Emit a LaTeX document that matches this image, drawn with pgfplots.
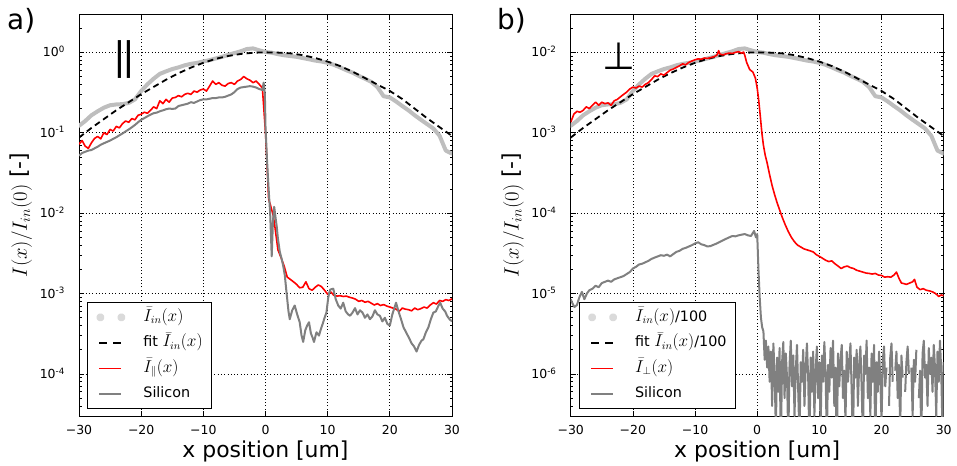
\documentclass[border=0pt]{standalone}
\usepackage{pgfplots}
\pgfplotsset{compat=1.18}
\usepackage{pgfplotstable}
\usepackage{fontspec}
\setmainfont{DejaVu Sans}
\newfontfamily\symfont{DejaVu Sans}
\definecolor{iin}{RGB}{190,190,190}
\definecolor{iinleg}{RGB}{218,218,218}
\definecolor{sil}{RGB}{128,128,128}
\newcommand{\lf}{\fontsize{14.4}{17}\selectfont}
\newcommand{\lfm}{\fontsize{16}{17}\selectfont}
\newcommand{\labf}{\fontsize{22}{26}\selectfont}

% mean incident intensity (panel a); panel b uses the same /100
\pgfplotstableread{
x y
-30 0.122
-29 0.140
-28 0.165
-27 0.185
-26 0.205
-25 0.220
-24 0.225
-23 0.227
-22 0.235
-21 0.260
-20 0.330
-19 0.400
-18 0.470
-17 0.540
-16 0.580
-15 0.620
-14 0.650
-13 0.690
-12 0.720
-11 0.740
-10 0.770
-9 0.800
-8 0.840
-7 0.880
-6 0.930
-5 0.980
-4 1.030
-3 1.100
-2 1.120
-1 1.060
0 1.010
1 0.990
2 0.950
3 0.920
4 0.900
5 0.880
6 0.850
7 0.820
8 0.790
9 0.770
10 0.740
11 0.700
12 0.650
13 0.600
14 0.560
15 0.510
16 0.470
17 0.430
18 0.370
19 0.285
20 0.275
21 0.245
22 0.215
23 0.190
24 0.165
25 0.145
26 0.128
27 0.113
28 0.092
29 0.060
30 0.055
}\tinL

% fit of the mean incident intensity
\pgfplotstableread{
x y
-30 0.0871
-28 0.1148
-26 0.1479
-24 0.1905
-22 0.2399
-20 0.3020
-18 0.3715
-16 0.4571
-14 0.5495
-12 0.6457
-10 0.7413
-8 0.8318
-6 0.9016
-4 0.9550
-2 0.9886
0 1.0000
2 0.9931
4 0.9727
6 0.9226
8 0.8511
10 0.7674
12 0.6761
14 0.5754
16 0.4786
18 0.3981
20 0.3311
22 0.2630
24 0.1995
26 0.1514
28 0.1175
30 0.0912
}\tfit

% I parallel (panel a)
\pgfplotstableread{
x y
-30 0.072
-29.5 0.080
-29 0.068
-28.5 0.064
-28 0.075
-27.5 0.085
-27 0.090
-26.5 0.084
-26 0.100
-25.5 0.095
-25 0.110
-24.5 0.105
-24 0.120
-23.5 0.115
-23 0.130
-22.5 0.140
-22 0.135
-21.5 0.150
-21 0.145
-20.5 0.165
-20 0.170
-19.5 0.180
-19 0.175
-18.5 0.190
-18 0.210
-17.5 0.200
-17 0.250
-16.5 0.230
-16 0.260
-15.5 0.240
-15 0.270
-14.5 0.275
-14 0.290
-13.5 0.280
-13 0.300
-12.5 0.310
-12 0.300
-11.5 0.330
-11 0.320
-10.5 0.340
-10 0.350
-9.5 0.330
-9 0.380
-8.5 0.440
-8 0.400
-7.5 0.420
-7 0.390
-6.5 0.380
-6 0.410
-5.5 0.420
-5 0.400
-4.5 0.440
-4 0.460
-3.5 0.500
-3 0.470
-2.5 0.450
-2 0.420
-1.5 0.440
-1 0.400
-0.5 0.360
0 0.100
0.25 0.040
0.5 0.015
0.75 0.013
1 0.011
1.25 0.0093
1.5 0.0069
2 0.0035
2.5 0.0028
3 0.0022
3.5 0.0016
4 0.0015
4.5 0.0014
5 0.0013
5.5 0.00118
6 0.0012
6.5 0.0014
7 0.00115
7.5 0.0011
8 0.0012
8.5 0.00128
9 0.00122
9.5 0.0011
10 0.00098
10.5 0.00105
11 0.00095
11.5 0.00093
12 0.00094
12.5 0.00092
13 0.00093
13.5 0.00090
14 0.00088
14.5 0.00085
15 0.00080
15.5 0.00082
16 0.00078
16.5 0.00080
17 0.00076
17.5 0.00072
18 0.00075
18.5 0.00071
19 0.00073
19.5 0.00070
20 0.00068
20.5 0.00066
21 0.00064
21.5 0.00060
22 0.00066
22.5 0.00064
23 0.00063
23.5 0.00061
24 0.00066
24.5 0.00063
25 0.00065
25.5 0.00068
26 0.00066
26.5 0.00072
27 0.00077
27.5 0.00074
28 0.00082
28.5 0.00080
29 0.00084
29.5 0.00082
30 0.00086
}\tparL

% Silicon (panel a)
\pgfplotstableread{
x y
-30 0.052
-29.5 0.056
-29 0.058
-28.5 0.060
-28 0.061
-27.5 0.064
-27 0.067
-26.5 0.071
-26 0.074
-25.5 0.077
-25 0.080
-24.5 0.084
-24 0.088
-23.5 0.093
-23 0.098
-22.5 0.104
-22 0.110
-21.5 0.117
-21 0.125
-20.5 0.135
-20 0.145
-19.5 0.152
-19 0.160
-18.5 0.168
-18 0.175
-17.5 0.178
-17 0.185
-16.5 0.190
-16 0.196
-15.5 0.200
-15 0.198
-14.5 0.200
-14 0.215
-13.5 0.220
-13 0.225
-12.5 0.230
-12 0.240
-11.5 0.235
-11 0.245
-10.5 0.255
-10 0.260
-9.5 0.260
-9 0.265
-8.5 0.270
-8 0.270
-7.5 0.275
-7 0.275
-6.5 0.280
-6 0.290
-5.5 0.300
-5 0.320
-4.5 0.350
-4 0.365
-3.5 0.370
-3 0.375
-2.5 0.380
-2 0.375
-1.5 0.365
-1 0.350
-0.5 0.340
-0.3 0.420
-0.1 0.300
0 0.120
0.25 0.045
0.5 0.020
0.75 0.010
1.0 0.0029
1.2 0.0080
1.4 0.0120
1.6 0.0090
1.8 0.0069
2.0 0.0048
2.3 0.0033
2.6 0.0027
2.85 0.0022
3.1 0.0017
3.4 0.0010
3.7 0.00060
3.9 0.00048
4.3 0.00062
4.7 0.00071
5.1 0.00055
5.5 0.00044
5.8 0.00030
6.06 0.00025
6.4 0.00035
6.7 0.00040
7.0 0.00044
7.3 0.00032
7.6 0.00028
7.8 0.00025
8.2 0.00033
8.6 0.00030
8.9 0.00036
9.2 0.00042
9.5 0.00050
9.8 0.00058
10.1 0.00090
10.4 0.00112
10.9 0.00115
11.3 0.00085
11.7 0.00071
12.1 0.00065
12.5 0.00077
12.9 0.00060
13.3 0.00055
13.6 0.00053
14.0 0.00058
14.4 0.00066
14.8 0.00055
15.2 0.00062
15.6 0.00058
16.0 0.00050
16.4 0.00055
16.8 0.00048
17.2 0.00052
17.6 0.00062
18.0 0.00055
18.4 0.00053
18.8 0.00045
19.2 0.00050
19.6 0.00042
20.0 0.00040
20.4 0.00055
20.7 0.00065
21.0 0.00077
21.4 0.00060
21.8 0.00048
22.2 0.00038
22.7 0.00032
23.1 0.00028
23.5 0.00024
23.9 0.00022
24.3 0.00019
24.7 0.00023
25.1 0.00026
25.4 0.00027
25.8 0.00033
26.2 0.00038
26.6 0.00048
27.0 0.00058
27.4 0.00060
27.8 0.00070
28.1 0.00077
28.5 0.00065
28.9 0.00060
29.2 0.00053
29.6 0.00048
30.0 0.00045
}\tsiL

% I perpendicular (panel b)
\pgfplotstableread{
x y
-30 0.00135
-29.5 0.0017
-29 0.00185
-28.5 0.0018
-28 0.0019
-27.5 0.0021
-27 0.0020
-26.5 0.0022
-26 0.0024
-25.5 0.0022
-25 0.0024
-24.5 0.0023
-24 0.00235
-23.5 0.0022
-23 0.0025
-22.5 0.0026
-22 0.0028
-21.5 0.0030
-21 0.0032
-20.5 0.0035
-20 0.0037
-19.5 0.0036
-19 0.0038
-18.5 0.0037
-18 0.0040
-17.5 0.0042
-17 0.0046
-16.5 0.0051
-16 0.0050
-15.5 0.0054
-15 0.0052
-14.5 0.0056
-14 0.0060
-13.5 0.0062
-13 0.0065
-12.5 0.0068
-12 0.0072
-11.5 0.0070
-11 0.0075
-10.5 0.0078
-10 0.0081
-9.5 0.0083
-9 0.0082
-8.5 0.0085
-8 0.0084
-7.5 0.0086
-7 0.0088
-6.5 0.0092
-6.2 0.0105
-6 0.0095
-5.5 0.0093
-5 0.0096
-4.5 0.0098
-4 0.0097
-3.5 0.0100
-3 0.0102
-2.5 0.0098
-2.2 0.0101
-2 0.0092
-1.7 0.0075
-1.2 0.0061
-0.7 0.0057
-0.3 0.0048
0 0.0036
0.25 0.0025
0.5 0.0016
0.75 0.0010
1.0 0.00070
1.3 0.00052
1.6 0.00042
2.0 0.00030
2.4 0.00022
2.8 0.00017
3.2 0.000135
3.6 0.00011
4.0 0.000090
4.5 0.000072
5.0 0.000059
5.5 0.000050
6 0.000044
6.5 0.000040
7 0.000038
7.5 0.000036
8 0.000035
8.5 0.000034
9 0.000033
9.5 0.0000305
10 0.000029
10.5 0.0000275
11 0.000026
11.5 0.000025
12 0.0000255
12.5 0.0000235
13 0.000022
13.5 0.0000205
14 0.0000215
14.5 0.000022
15 0.000021
15.5 0.0000205
16 0.0000195
16.5 0.000019
17 0.0000185
17.5 0.000018
18 0.0000178
18.5 0.0000175
19 0.0000178
19.5 0.000017
20 0.0000168
20.5 0.000016
21 0.0000162
21.5 0.000016
22 0.000017
22.4 0.0000185
22.8 0.0000155
23.2 0.0000135
23.6 0.0000133
24 0.000013
24.5 0.0000135
25 0.000014
25.3 0.000015
25.7 0.000012
26.2 0.0000112
26.7 0.0000115
27.2 0.000011
27.7 0.0000108
28.2 0.0000105
28.7 0.000010
29.2 0.0000092
29.6 0.0000096
30 0.0000094
}\tperR

% Silicon (panel b)
\pgfplotstableread{
x y
-30 8.5e-6
-29.7 7.5e-6
-29.4 6.8e-6
-29 7.2e-6
-28.6 9e-6
-28.2 1.05e-5
-27.8 8.5e-6
-27.4 1e-5
-27 1.1e-5
-26.5 1.15e-5
-26 1.25e-5
-25.5 1.2e-5
-25 1.35e-5
-24.5 1.4e-5
-24 1.45e-5
-23.5 1.4e-5
-23 1.5e-5
-22.5 1.55e-5
-22 1.6e-5
-21.5 1.65e-5
-21 1.75e-5
-20.5 1.85e-5
-20 2.05e-5
-19.5 2.15e-5
-19 2.3e-5
-18.5 2.35e-5
-18 2.45e-5
-17.5 2.55e-5
-17 2.7e-5
-16.5 2.8e-5
-16 2.9e-5
-15.5 3.0e-5
-15 2.95e-5
-14.5 3.05e-5
-14 2.9e-5
-13.5 3.1e-5
-13 3.3e-5
-12.5 3.4e-5
-12 3.6e-5
-11.5 3.7e-5
-11 3.85e-5
-10.5 4.0e-5
-10 4.2e-5
-9.5 4.35e-5
-9 4.1e-5
-8.5 4.0e-5
-8 3.85e-5
-7.5 3.9e-5
-7 4.05e-5
-6.5 4.2e-5
-6 4.4e-5
-5.5 4.6e-5
-5 4.8e-5
-4.5 5.0e-5
-4 5.2e-5
-3.5 5.15e-5
-3 5.3e-5
-2.5 5.4e-5
-2 5.5e-5
-1.5 5.3e-5
-1 5.2e-5
-0.5 6e-5
-0.2 5e-5
0 5.5e-5
0.2 2e-5
0.4 9e-6
0.6 5e-6
0.8 3.8e-6
1.0 3.4e-6
1.2 1.5e-6
1.4 2.6e-6
1.6 1.2e-6
1.8 2.2e-6
2.0 8e-7
2.2 1.9e-6
2.4 4e-7
2.6 2.4e-6
2.8 1.0e-6
3.0 2e-7
3.2 1.6e-6
3.4 6e-7
3.6 2.1e-6
3.8 1.2e-7
4.0 1.4e-6
4.2 2.5e-6
4.4 5e-7
4.6 1.8e-6
4.8 9e-7
5.0 1.5e-7
5.2 1.3e-6
5.4 2.6e-6
5.6 7e-7
5.8 1.7e-6
6.0 3e-7
6.2 1.1e-6
6.4 2.3e-6
6.6 6e-7
6.8 1.5e-7
7.0 1.4e-6
7.2 8e-7
7.4 2.0e-6
7.6 4e-7
7.8 1.2e-6
8.0 2.4e-6
8.2 9e-7
8.4 1.2e-7
8.6 1.6e-6
8.8 6e-7
9.0 1.9e-6
9.2 3e-7
9.4 1.1e-6
9.6 2.2e-6
9.8 5e-7
10.0 1.4e-6
10.2 2.0e-7
10.4 1.7e-6
10.6 8e-7
10.8 2.5e-6
11.0 1.0e-6
11.2 1.5e-7
11.4 1.3e-6
11.6 6e-7
11.8 2.1e-6
12.0 9e-7
12.2 2.6e-6
12.4 4e-7
12.6 1.2e-6
12.8 1.0e-7
13.0 1.8e-6
13.2 7e-7
13.4 1.5e-6
13.6 2.3e-6
13.8 5e-7
14.0 1.1e-6
14.2 2.5e-7
14.4 1.9e-6
14.6 8e-7
14.8 1.4e-6
15.0 2.4e-6
15.2 6e-7
15.4 1.2e-7
15.6 1.6e-6
15.8 9e-7
16.0 2.0e-6
16.2 4e-7
16.4 1.3e-6
16.6 2.2e-6
16.8 7e-7
17.0 1.5e-7
17.2 1.7e-6
17.4 1.0e-6
17.6 2.6e-6
17.8 5e-7
18.0 1.2e-6
18.2 3e-7
18.4 1.8e-6
18.6 8e-7
18.8 2.3e-6
19.0 1.0e-7
19.2 1.4e-6
19.4 6e-7
19.6 1.9e-6
19.8 9e-7
20.0 2.5e-7
20.2 1.5e-6
20.4 2.2e-6
20.6 7e-7
20.8 1.2e-6
21.0 nan
21.2 4e-7
21.4 1.6e-6
21.6 2.4e-6
21.8 8e-7
22.0 nan
22.2 1.1e-6
22.4 1.9e-6
22.6 5e-7
22.8 1.3e-6
23.0 2.0e-7
23.2 1.7e-6
23.4 9e-7
23.6 nan
23.8 6e-7
24.0 1.4e-6
24.2 2.2e-6
24.4 1.0e-6
24.6 nan
24.8 1.2e-6
25.0 3e-7
25.2 1.5e-6
25.4 8e-7
25.6 2.0e-6
25.8 nan
26.0 5e-7
26.2 1.1e-6
26.4 1.5e-7
26.6 1.8e-6
26.8 2.6e-6
27.0 9e-7
27.2 1.3e-6
27.4 4e-7
27.6 2.1e-6
27.8 1.0e-6
28.0 1.6e-6
28.2 6e-7
28.4 2.3e-6
28.6 1.2e-6
28.8 3e-7
29.0 1.9e-6
29.2 8e-7
29.4 2.6e-6
29.6 1.1e-6
29.8 2.0e-7
30.0 1.4e-6
}\tsiR

\pgfplotsset{
 myaxis/.style={
  scale only axis, width=373bp, height=402bp,
  anchor=south west,
  xmin=-30, xmax=30,
  xtick={-30,-20,-10,0,10,20,30},
  xticklabels={−30,−20,−10,0,10,20,30},
  tick align=inside,
  major tick length=5bp, minor tick length=2.5bp,
  every tick/.style={black, line width=0.7bp},
  axis line style={black, line width=0.9bp},
  grid=major,
  major grid style={black, line width=0.7bp, dash pattern=on 0.9bp off 2.4bp},
  tick label style={font=\fontsize{12.5}{14}\selectfont, inner sep=0pt},
  xticklabel style={anchor=base, yshift=-18bp},
  yticklabel style={anchor=base east, xshift=-14bp, yshift=-4.5bp},
  xlabel={\labf x position [um]},
  ylabel={\labf $I(x)/I_{in}(0)$ [-]},
  every axis x label/.style={at={(axis description cs:0.5,-0.102)}, anchor=base, inner sep=0pt},
  every axis y label/.style={at={(axis description cs:-0.155,0.5)}, rotate=90, anchor=center, inner sep=0pt},
  legend cell align=left,
  legend image code/.code={\draw[##1] (0bp,0bp) -- (22bp,0bp);},
  legend style={at={(axis description cs:0,0)}, anchor=south west,
    xshift=8bp, yshift=7bp, draw=black, line width=0.8bp, fill=white,
    font=\lf, inner xsep=9bp, inner ysep=7.5bp,
    row sep=11bp, column sep=18bp,
    nodes={inner sep=0pt, text height=11bp, text depth=3.5bp}},
  unbounded coords=jump,
 },
 iinstyle/.style={iin, line width=4bp, line join=round, line cap=round,
   legend image code/.code={\fill[iinleg] (1bp,0bp) circle (2bp); \fill[iinleg] (22bp,0bp) circle (2bp);}},
 fitstyle/.style={black, line width=1.8bp, dash pattern=on 6bp off 4bp,
   legend image code/.code={\draw[black, line width=1.8bp, dash pattern=on 8bp off 6bp] (0bp,0bp) -- (22bp,0bp);}},
 redstyle/.style={red, line width=1.6bp, line join=round},
 silstyle/.style={sil, line width=2bp, line join=round},
}

\begin{document}
\begin{tikzpicture}
\path[use as bounding box] (0bp,0bp) rectangle (957bp,466bp);

\begin{axis}[ymode=log, myaxis, at={(79bp,50bp)}, ymin=3e-5, ymax=3,
  ytick={1e-4,1e-3,1e-2,1e-1,1},
  yticklabels={10\textsuperscript{-4},10\textsuperscript{-3},10\textsuperscript{-2},10\textsuperscript{-1},10\textsuperscript{0}},
  minor ytick={4e-5,5e-5,6e-5,7e-5,8e-5,9e-5,2e-4,3e-4,4e-4,5e-4,6e-4,7e-4,8e-4,9e-4,2e-3,3e-3,4e-3,5e-3,6e-3,7e-3,8e-3,9e-3,2e-2,3e-2,4e-2,5e-2,6e-2,7e-2,8e-2,9e-2,0.2,0.3,0.4,0.5,0.6,0.7,0.8,0.9,2}]
\addplot[iinstyle] table[x=x,y=y] {\tinL};
\addlegendentry{\lfm$\bar{I}_{in}(x)$}
\addplot[fitstyle] table[x=x,y=y] {\tfit};
\addlegendentry{\lf fit {\lfm$\bar{I}_{in}(x)$}}
\addplot[redstyle] table[x=x,y=y] {\tparL};
\addlegendentry{\lfm$\bar{I}_{\parallel}(x)$}
\addplot[silstyle] table[x=x,y=y] {\tsiL};
\addlegendentry{\lf Silicon}
\end{axis}

\begin{axis}[ymode=log, myaxis, at={(570.7bp,50bp)}, ymin=3e-7, ymax=3e-2,
  ytick={1e-6,1e-5,1e-4,1e-3,1e-2},
  yticklabels={10\textsuperscript{-6},10\textsuperscript{-5},10\textsuperscript{-4},10\textsuperscript{-3},10\textsuperscript{-2}},
  minor ytick={4e-7,5e-7,6e-7,7e-7,8e-7,9e-7,2e-6,3e-6,4e-6,5e-6,6e-6,7e-6,8e-6,9e-6,2e-5,3e-5,4e-5,5e-5,6e-5,7e-5,8e-5,9e-5,2e-4,3e-4,4e-4,5e-4,6e-4,7e-4,8e-4,9e-4,2e-3,3e-3,4e-3,5e-3,6e-3,7e-3,8e-3,9e-3,2e-2}]
\addplot[iinstyle] table[x=x,y expr=\thisrow{y}/100] {\tinL};
\addlegendentry{{\lfm$\bar{I}_{in}(x)$}\lf/100}
\addplot[fitstyle] table[x=x,y expr=\thisrow{y}/100] {\tfit};
\addlegendentry{\lf fit {\lfm$\bar{I}_{in}(x)$}/100}
\addplot[redstyle] table[x=x,y=y] {\tperR};
\addlegendentry{\lfm$\bar{I}_{\perp}(x)$}
\addplot[silstyle] table[x=x,y=y] {\tsiR};
\addlegendentry{\lf Silicon}
\end{axis}

\node[anchor=base west, inner sep=0pt, font=\fontsize{28}{30}\selectfont] at (7bp,436bp) {a)};
\node[anchor=base west, inner sep=0pt, font=\fontsize{28}{30}\selectfont] at (497bp,436bp) {b)};
\node[inner sep=0pt, font=\symfont\fontsize{38}{40}\selectfont] at (124bp,406.5bp) {|\kern-4bp|};
\node[inner sep=0pt, font=\symfont\fontsize{38}{40}\selectfont] at (619bp,410bp) {⊥};
\end{tikzpicture}
\end{document}
